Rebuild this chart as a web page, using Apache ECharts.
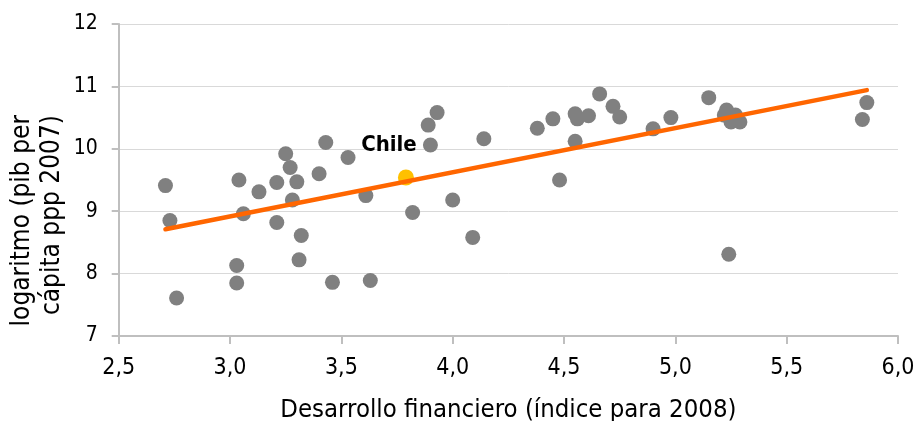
<!DOCTYPE html>
<html><head><meta charset="utf-8">
<script src="https://cdn.jsdelivr.net/npm/echarts@6/dist/echarts.min.js"></script>
<style>html,body{margin:0;padding:0;background:#fff}#c{width:918px;height:421px}</style>
</head><body><div id="c"></div>
<script>
const FONT = "'DejaVu Sans Condensed','DejaVu Sans',sans-serif";
const xTitle = 'Desarrollo financiero (índice para 2008)';
const yTitleLines = ['logaritmo (pib per', 'cápita ppp 2007)'];
const chileLabel = 'Chile';
const xTicks = [2.5, 3.0, 3.5, 4.0, 4.5, 5.0, 5.5, 6.0];
const yTicks = [7, 8, 9, 10, 11, 12];
const countryX = [2.71,2.73,2.76,3.04,3.06,3.03,3.03,3.13,3.21,3.21,3.25,3.27,3.30,3.28,3.32,3.31,3.40,3.43,3.46,3.53,3.61,3.63,3.82,3.89,3.93,3.90,4.00,4.09,4.14,4.38,4.45,4.48,4.55,4.56,4.55,4.61,4.66,4.72,4.75,4.90,4.98,5.15,5.23,5.22,5.27,5.25,5.29,5.24,5.86,5.84];
const countryY = [9.41,8.85,7.61,9.50,8.96,8.13,7.85,9.31,9.46,8.82,9.92,9.70,9.47,9.18,8.61,8.22,9.60,10.10,7.86,9.86,9.25,7.89,8.98,10.38,10.58,10.06,9.18,8.58,10.16,10.33,10.48,9.50,10.56,10.48,10.12,10.53,10.88,10.68,10.51,10.32,10.50,10.82,10.62,10.54,10.54,10.43,10.43,8.31,10.74,10.47];
const chileX = [3.79];
const chileY = [9.54];
const trendX = [2.71, 5.86];
const trendY = [8.71, 10.94];

const zip = (a, b) => a.map((v, i) => [v, b[i]]);
const fmt = v => v.toFixed(1).replace('.', ',');

const chart = echarts.init(document.getElementById('c'));
chart.setOption({
  animation: false,
  grid: {left: 118.7, right: 20, top: 24, bottom: 85, containLabel: false, outerBoundsMode: 'none'},
  xAxis: {
    type: 'value', min: xTicks[0], max: xTicks[xTicks.length-1], interval: 0.5,
    name: xTitle, nameLocation: 'middle', nameGap: 61.5,
    nameTextStyle: {fontFamily: FONT, fontSize: 25.5, color: '#000'},
    axisLine: {show: true, lineStyle: {color: '#BFBFBF', width: 2}},
    axisTick: {show: true, inside: false, length: 8, lineStyle: {color: '#BFBFBF', width: 2}},
    axisLabel: {fontFamily: FONT, fontSize: 23, color: '#000', margin: 21, formatter: fmt},
    splitLine: {show: false}
  },
  yAxis: {
    type: 'value', min: yTicks[0], max: yTicks[yTicks.length-1], interval: 1,
    axisLine: {show: true, lineStyle: {color: '#BFBFBF', width: 2}},
    axisTick: {show: true, inside: false, length: 7, lineStyle: {color: '#BFBFBF', width: 2}},
    axisLabel: {fontFamily: FONT, fontSize: 21, color: '#000', margin: 21},
    splitLine: {show: true, lineStyle: {color: '#D9D9D9', width: 1}}
  },
  graphic: [{
    type: 'text', x: 37, y: 115, rotation: Math.PI/2,
    style: {text: yTitleLines.join('\n'), fontFamily: FONT, fontSize: 26, fill: '#000',
            align: 'right', verticalAlign: 'middle', lineHeight: 30}
  }],
  series: [
    {type: 'scatter', data: zip(countryX, countryY), symbolSize: 15,
     itemStyle: {color: '#808080', opacity: 1}, z: 2},
    {type: 'scatter', data: zip(chileX, chileY), symbolSize: 16,
     itemStyle: {color: '#FFC000', opacity: 1}, z: 3,
     label: {show: true, formatter: chileLabel, position: [-9, -24], align: 'center', verticalAlign: 'middle',
             fontFamily: FONT, fontSize: 22, fontWeight: 'bold', color: '#000'}},
    {type: 'line', data: zip(trendX, trendY), symbol: 'none',
     lineStyle: {color: '#FF6600', width: 4.5, cap: 'round'}, z: 4}
  ]
});
</script></body></html>
